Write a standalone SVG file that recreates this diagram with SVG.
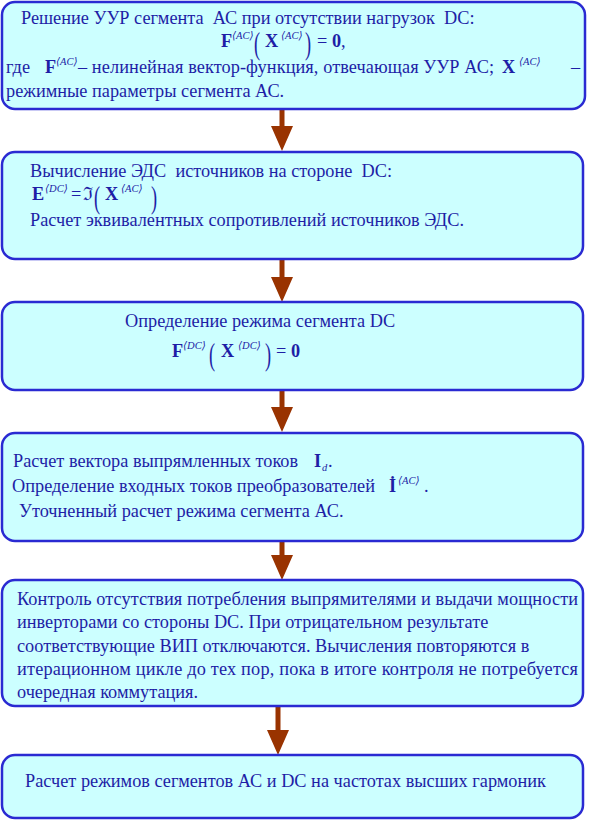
<svg xmlns="http://www.w3.org/2000/svg" width="591" height="821" viewBox="0 0 591 821">
<style>
.box{fill:#ccffff;stroke:#2a2ad2;stroke-width:2.5}
.t{font-family:"Liberation Serif","Times New Roman",serif;font-size:18.3px;fill:#1e1ea6}
.b{font-family:"Liberation Serif","Times New Roman",serif;font-size:18.3px;font-weight:bold;fill:#1e1ea6}
.s{font-family:"Liberation Serif","DejaVu Serif",serif;font-size:10.5px;font-style:italic;fill:#1e1ea6}
.p{font-family:"Liberation Serif","Times New Roman",serif;font-size:18.3px;fill:#1e1ea6}
.arr{fill:#993300}
</style>
<rect width="591" height="821" fill="#ffffff"/>
<g id="connectors">
<path class="arr" d="M279.5 109 h5 v17 h8.5 l-11 25 l-11 -25 h8.5 z"/>
<path class="arr" d="M279.5 259 h5 v18 h8.5 l-11 25 l-11 -25 h8.5 z"/>
<path class="arr" d="M279.5 390 h5 v17 h8.5 l-11 25 l-11 -25 h8.5 z"/>
<path class="arr" d="M279.5 541 h5 v14 h8.5 l-11 25 l-11 -25 h8.5 z"/>
<path class="arr" d="M275.5 706 h5 v24 h8.5 l-11 25 l-11 -25 h8.5 z"/>
</g>
<g id="node1">
<rect class="box" x="2" y="2" width="583" height="107" rx="13"/>
<text class="t" x="21" y="24" xml:space="preserve">Решение УУР сегмента  АС при отсутствии нагрузок  DC:</text>
<text class="b" x="221" y="47">F</text>
<text class="s" x="232" y="39">⟨AC⟩</text>
<text class="p" transform="translate(254,54) scale(1,1.7)">(</text>
<text class="b" x="265" y="47">X</text>
<text class="s" x="281" y="39">⟨AC⟩</text>
<text class="p" transform="translate(305,54) scale(1,1.7)">)</text>
<text class="t" x="317" y="47">= <tspan class="b">0</tspan>,</text>
<text class="t" x="6" y="73">где</text>
<text class="b" x="45" y="73">F</text>
<text class="s" x="56" y="65">⟨AC⟩</text>
<text class="t" x="78" y="73" textLength="416" lengthAdjust="spacing">– нелинейная  вектор-функция,  отвечающая  УУР  АС;</text>
<text class="b" x="502" y="73">X</text>
<text class="s" x="519" y="65">⟨AC⟩</text>
<text class="t" x="571" y="73">–</text>
<text class="t" x="6" y="97">режимные параметры сегмента АС.</text>
</g>
<g id="node2">
<rect class="box" x="2" y="152" width="581" height="107" rx="13"/>
<text class="t" x="30" y="177" xml:space="preserve">Вычисление ЭДС  источников на стороне  DC:</text>
<text class="b" x="32" y="200">E</text>
<text class="s" x="45" y="192">⟨DC⟩</text>
<text class="t" x="71" y="200">=</text>
<text class="t" x="83" y="200" font-family="DejaVu Serif" font-size="16">ℑ</text>
<text class="p" transform="translate(94,208) scale(1,1.7)">(</text>
<text class="b" x="105" y="200">X</text>
<text class="s" x="121" y="192">⟨AC⟩</text>
<text class="p" transform="translate(151,208) scale(1,1.7)">)</text>
<text class="t" x="30" y="226">Расчет эквивалентных сопротивлений источников ЭДС.</text>
</g>
<g id="node3">
<rect class="box" x="2" y="302" width="581" height="88" rx="13"/>
<text class="t" x="125" y="327">Определение режима сегмента DC</text>
<text class="b" x="172" y="357">F</text>
<text class="s" x="183" y="349">⟨DC⟩</text>
<text class="p" transform="translate(209,365) scale(1,1.7)">(</text>
<text class="b" x="221" y="357">X</text>
<text class="s" x="238" y="349">⟨DC⟩</text>
<text class="p" transform="translate(265,365) scale(1,1.7)">)</text>
<text class="t" x="276" y="357">= <tspan class="b">0</tspan></text>
</g>
<g id="node4">
<rect class="box" x="2" y="433" width="581" height="108" rx="13"/>
<text class="t" x="13" y="467">Расчет вектора выпрямленных токов</text>
<text class="b" x="314" y="467">I</text>
<text class="s" x="322" y="471">d</text>
<text class="t" x="328" y="467">.</text>
<text class="t" x="12" y="492">Определение входных токов преобразователей</text>
<text class="b" x="389" y="492">İ</text>
<text class="s" x="398" y="484">⟨AC⟩</text>
<text class="t" x="424" y="492">.</text>
<text class="t" x="19" y="517">Уточненный расчет режима сегмента АС.</text>
</g>
<g id="node5">
<rect class="box" x="2" y="580" width="581" height="126" rx="13"/>
<text class="t" x="17" y="605" textLength="561" lengthAdjust="spacing">Контроль отсутствия потребления выпрямителями и выдачи мощности</text>
<text class="t" x="17" y="628">инверторами со стороны DC. При отрицательном результате</text>
<text class="t" x="17" y="652">соответствующие ВИП отключаются. Вычисления повторяются в</text>
<text class="t" x="17" y="675" textLength="561" lengthAdjust="spacing">итерационном цикле до тех пор, пока в итоге контроля не потребуется</text>
<text class="t" x="17" y="698">очередная коммутация.</text>
</g>
<g id="node6">
<rect class="box" x="2" y="755" width="581" height="63" rx="13"/>
<text class="t" x="25" y="787">Расчет режимов сегментов АС и DC на частотах высших гармоник</text>
</g>
</svg>
